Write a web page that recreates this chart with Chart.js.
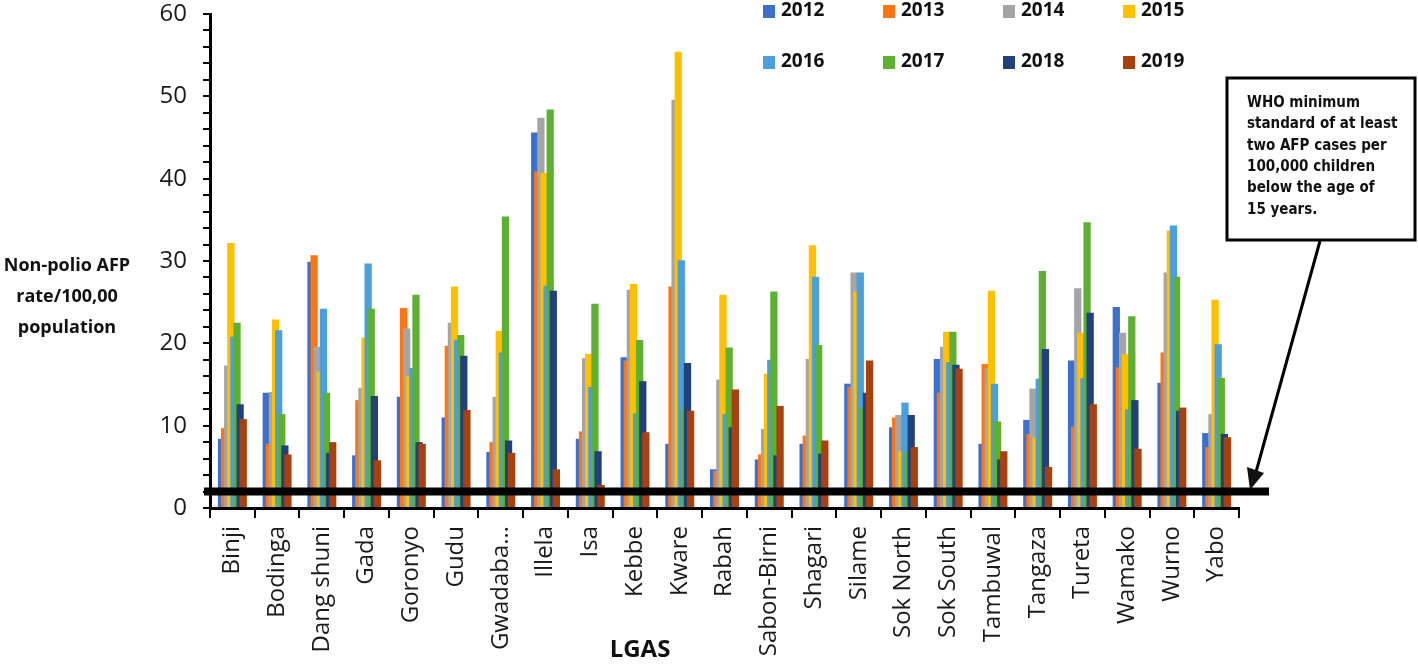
<!DOCTYPE html>
<html>
<head>
<meta charset="utf-8">
<script src="https://cdn.jsdelivr.net/npm/chart.js@4.4.1/dist/chart.umd.min.js"></script>
<style>
    html, body { margin: 0; padding: 0; background: #fff; }
    #wrap { position: relative; width: 1418px; height: 670px; }
</style>
</head>
<body>
<div id="wrap"><canvas id="afp-chart"></canvas></div>
<script>
/*** data ***/
const categories = ['Binji', 'Bodinga', 'Dang shuni', 'Gada', 'Goronyo', 'Gudu', 'Gwadaba…', 'Illela', 'Isa', 'Kebbe',
    'Kware', 'Rabah', 'Sabon-Birni', 'Shagari', 'Silame', 'Sok North', 'Sok South', 'Tambuwal', 'Tangaza', 'Tureta',
    'Wamako', 'Wurno', 'Yabo'];
const years = ['2012', '2013', '2014', '2015', '2016', '2017', '2018', '2019'];

const y2012 = [8.4, 14.0, 29.9, 6.4, 13.5, 11.0, 6.8, 45.6, 8.4, 18.3, 7.8, 4.7, 5.9, 7.8, 15.1, 9.8, 18.1, 7.8, 10.7, 17.9, 24.4, 15.2, 9.1];
const y2013 = [9.7, 7.8, 30.7, 13.1, 24.3, 19.7, 8.0, 40.9, 9.3, 17.9, 26.9, 4.5, 6.5, 8.8, 14.7, 11.0, 14.0, 17.5, 9.0, 9.9, 17.1, 18.9, 7.4];
const y2014 = [17.3, 14.1, 19.6, 14.6, 21.8, 22.5, 13.5, 47.4, 18.2, 26.5, 49.6, 15.6, 9.6, 18.1, 28.6, 11.3, 19.6, 17.0, 14.5, 26.7, 21.3, 28.6, 11.4];
const y2015 = [32.2, 22.9, 16.6, 20.7, 16.0, 26.9, 21.5, 40.7, 18.7, 27.2, 55.4, 25.9, 16.3, 31.9, 26.3, 6.9, 21.4, 26.4, 8.6, 21.3, 18.7, 33.7, 25.3];
const y2016 = [20.8, 21.6, 24.2, 29.7, 17.0, 20.4, 18.9, 27.0, 14.7, 11.5, 30.1, 11.4, 18.0, 28.1, 28.6, 12.8, 17.7, 15.1, 15.7, 15.8, 12.0, 34.3, 19.9];
const y2017 = [22.5, 11.4, 14.0, 24.2, 25.9, 21.0, 35.4, 48.4, 24.8, 20.4, 12.2, 19.5, 26.3, 19.8, 12.2, 6.9, 21.4, 10.5, 28.8, 34.7, 23.3, 28.1, 15.8];
const y2018 = [12.6, 7.6, 6.7, 13.6, 8.0, 18.5, 8.2, 26.4, 6.9, 15.4, 17.6, 9.8, 6.4, 6.6, 14.0, 11.3, 17.4, 5.9, 19.3, 23.7, 13.1, 11.8, 9.0];
const y2019 = [10.8, 6.5, 8.0, 5.8, 7.8, 11.9, 6.7, 4.7, 2.8, 9.2, 11.8, 14.4, 12.4, 8.2, 17.9, 7.4, 16.9, 6.9, 5.0, 12.6, 7.2, 12.2, 8.6];

const yTickLabels = [0, 10, 20, 30, 40, 50, 60];
const yMinorStep = 2;
const whoMinimum = 2;
const whoNote = ['WHO minimum', 'standard of at least', 'two AFP cases per', '100,000 children', 'below the age of', '15 years.'];

const seriesValues = [y2012, y2013, y2014, y2015, y2016, y2017, y2018, y2019];
const colors = ['#3D70CC', '#FF7513', '#A5A5A5', '#FFC000', '#4A9FDD', '#5DB031', '#22417A', '#A8410D'];

/*** plugins ***/
// later years drawn on top (Chart.js normally puts the first dataset on top)
const drawOrderPlugin = {
    id: 'drawOrder',
    beforeDatasetsDraw(chart) {
        chart.getSortedVisibleDatasetMetas().forEach(meta => meta.controller.draw());
        return false;
    }
};

const extrasPlugin = {
    id: 'extras',
    afterDraw(chart) {
        const c = chart.ctx;
        const y = chart.scales.y;
        const area = chart.chartArea;
        c.save();

        // WHO threshold line
        const ly = y.getPixelForValue(whoMinimum);
        c.strokeStyle = '#000';
        c.lineWidth = 8;
        c.beginPath();
        c.moveTo(area.left - 6, ly);
        c.lineTo(area.right + 30, ly);
        c.stroke();

        // legend
        c.textBaseline = 'middle';
        c.textAlign = 'left';
        c.font = 'bold 19px "Open Sans"';
        chart.data.datasets.forEach((ds, i) => {
            const lx = 763 + (i % 4) * 120;
            const lyy = i < 4 ? 11 : 62;
            c.fillStyle = ds.backgroundColor;
            c.fillRect(lx, lyy - 6, 12, 13);
            c.fillStyle = '#111';
            c.fillText(ds.label, lx + 18, lyy);
        });

        // y title
        c.textAlign = 'center';
        c.font = 'bold 18px "Open Sans"';
        ['Non-polio AFP', 'rate/100,00', 'population'].forEach((t, i) => c.fillText(t, 67, 266 + i * 31));

        // x title
        c.font = 'bold 24px "Open Sans"';
        c.fillText('LGAS', 640, 650);

        // annotation box + arrow
        c.lineWidth = 3;
        c.strokeRect(1227, 78, 188, 162);
        c.textAlign = 'left';
        c.font = 'bold 15px "DejaVu Sans Condensed", "DejaVu Sans"';
        whoNote.forEach((t, i) => c.fillText(t, 1247, 103 + i * 21.4));
        c.lineWidth = 3;
        c.beginPath();
        c.moveTo(1320, 241);
        c.lineTo(1256, 472);
        c.stroke();
        c.beginPath();
        c.moveTo(1250, 490);
        c.lineTo(1247, 467);
        c.lineTo(1264, 473);
        c.closePath();
        c.fill();
        c.restore();
    }
};

/*** chart ***/
const ctx = document.getElementById('afp-chart').getContext('2d');
const afpChart = new Chart(ctx, {
    type: 'bar',
    data: {
        labels: categories,
        datasets: years.map((yr, i) => ({
            label: yr,
            data: seriesValues[i],
            backgroundColor: colors[i],
            borderWidth: 0,
            categoryPercentage: 0.554,
            barPercentage: 2.35,
        }))
    },
    options: {
        responsive: true,
        maintainAspectRatio: false,
        animation: false,
        layout: {
            padding: { top: 14, right: 179, bottom: 0, left: 0 }
        },
        plugins: {
            legend: { display: false },
            tooltip: { enabled: false }
        },
        scales: {
            x: {
                afterFit(scale) { scale.height = 162; },
                border: { color: '#000', width: 3 },
                grid: {
                    offset: true,
                    drawOnChartArea: false,
                    color: '#000',
                    lineWidth: 2,
                    tickLength: 10
                },
                ticks: {
                    autoSkip: false,
                    minRotation: 90,
                    maxRotation: 90,
                    padding: 8,
                    color: '#1a1a1a',
                    font: { family: 'Open Sans', size: 24 }
                }
            },
            y: {
                min: yTickLabels[0],
                max: yTickLabels[yTickLabels.length - 1],
                afterFit(scale) {
                    scale.width = 210;
                    scale.paddingTop = 0;
                    scale.paddingBottom = 0;
                },
                border: { color: '#000', width: 3 },
                grid: {
                    drawOnChartArea: false,
                    color: '#000',
                    lineWidth: 2,
                    tickLength: 7
                },
                ticks: {
                    stepSize: yMinorStep,
                    maxTicksLimit: 40,
                    autoSkip: false,
                    padding: 16,
                    color: '#1a1a1a',
                    font: { family: 'Open Sans', size: 24 },
                    callback: v => yTickLabels.includes(v) ? v : ''
                }
            }
        }
    },
    plugins: [drawOrderPlugin, extrasPlugin]
});
</script>
</body>
</html>
